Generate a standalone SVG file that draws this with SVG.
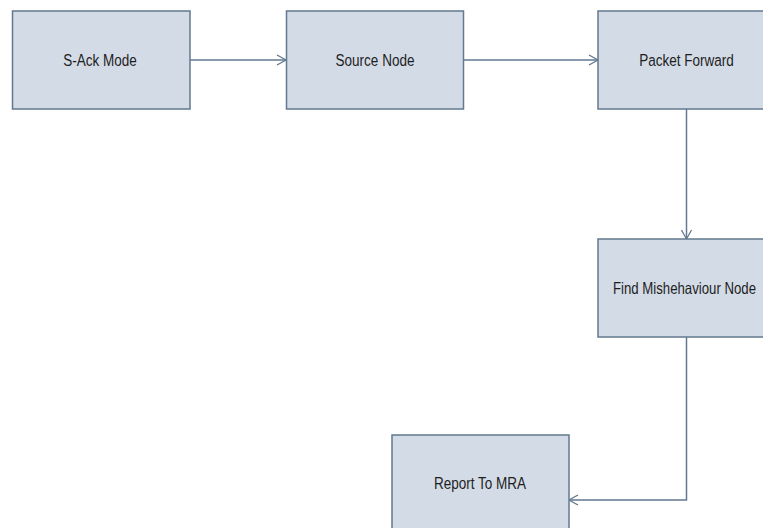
<svg xmlns="http://www.w3.org/2000/svg" width="763" height="528" viewBox="0 0 763 528">
<defs>
<style>
.box{fill:#d3dbe6;stroke:#62798f;stroke-width:1.5}
.lbl{font-family:"Liberation Sans",Arial,sans-serif;font-size:16.5px;fill:#1e1e1e;text-anchor:middle;dominant-baseline:central}
.conn{fill:none;stroke:#62798f;stroke-width:1.5}
</style>
<marker id="arr" markerWidth="12" markerHeight="12" refX="10" refY="6" orient="auto" markerUnits="userSpaceOnUse">
<path d="M1,1 L10,6 L1,11" fill="none" stroke="#62798f" stroke-width="1.3"/>
</marker>
</defs>
<rect width="763" height="528" fill="#ffffff"/>
<g id="connectors">
<path class="conn" d="M190,60 H286" marker-end="url(#arr)"/>
<path class="conn" d="M464,60 H598" marker-end="url(#arr)"/>
<path class="conn" d="M686.5,109 V239" marker-end="url(#arr)"/>
<path class="conn" d="M686.5,337 V500 H569" marker-end="url(#arr)"/>
</g>
<g id="n1"><rect class="box" x="12.5" y="11" width="177.5" height="98"/><text class="lbl" transform="translate(100,60) scale(0.82,1)">S-Ack Mode</text></g>
<g id="n2"><rect class="box" x="286.5" y="11" width="177" height="98"/><text class="lbl" transform="translate(375,60) scale(0.82,1)">Source Node</text></g>
<g id="n3"><rect class="box" x="598" y="11" width="177" height="98"/><text class="lbl" transform="translate(686.5,60) scale(0.82,1)">Packet Forward</text></g>
<g id="n4"><rect class="box" x="598" y="239" width="177" height="98"/><text class="lbl" transform="translate(684.5,288) scale(0.8,1)">Find Mishehaviour Node</text></g>
<g id="n5"><rect class="box" x="392" y="435" width="177" height="98"/><text class="lbl" transform="translate(480,483) scale(0.82,1)">Report To MRA</text></g>
</svg>
